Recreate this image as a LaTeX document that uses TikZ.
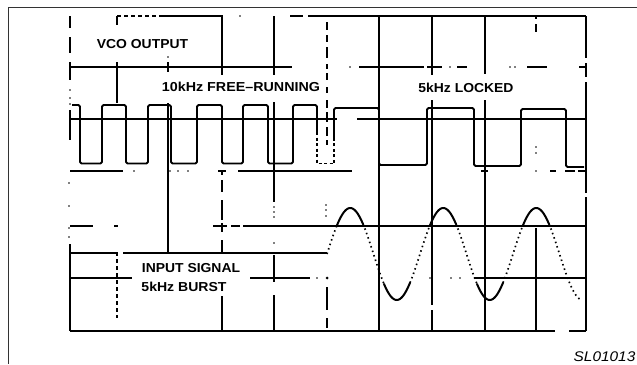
\documentclass[tikz,border=0pt]{standalone}
\usepackage{fontspec}
\usepackage{graphicx}
\setmainfont{Liberation Sans}
\begin{document}
\begin{tikzpicture}[x=1pt,y=-1pt,
  g/.style={line width=1.5pt, line cap=butt},
  gd/.style={g, dash pattern=on 4pt off 3pt},
  tr/.style={line width=1.8pt, line join=round, rounded corners=1.5pt},
  trd/.style={line width=1.6pt, dash pattern=on 3pt off 2.5pt},
  sd/.style={line width=1.7pt, dash pattern=on 1.5pt off 3.2pt, line cap=butt},
  ss/.style={line width=2pt, line cap=round},
  fr/.style={line width=0.9pt, draw=black!80},
  lbl/.style={inner sep=0pt, font=\fontsize{13}{13}\selectfont\bfseries},
  pt/.style={fill=black}]
\useasboundingbox (0,0) rectangle (637,364);
% outer frame (top and left edges visible)
\draw[fr] (637,7) -- (8,7) -- (8,364);
% ---------------- horizontal graticule pieces ----------------
\draw[gd] (117,16) -- (163,16);
\foreach \a/\b in {163/223, 290/303, 308/586} \draw[g] (\a,16) -- (\b,16);
\foreach \a/\b in {70/292, 359/424, 427/442, 457/467, 527/547, 579/586} \draw[g] (\a,67) -- (\b,67);
\foreach \a/\b in {70/337, 357/586} \draw[g] (\a,119) -- (\b,119);
\foreach \a/\b in {70/123, 218/226, 238/352, 481/488, 550/556, 565/575, 578/586} \draw[g] (\a,171) -- (\b,171);
\foreach \a/\b in {70/93, 114/118, 213/227, 231/240, 243/586} \draw[g] (\a,226) -- (\b,226);
\foreach \a/\b in {70/132, 250/310, 474/586} \draw[g] (\a,278) -- (\b,278);
\foreach \a/\b in {70/555, 569/586} \draw[g] (\a,331) -- (\b,331);
% ---------------- vertical graticule pieces ----------------
\foreach \a/\b in {16/28, 37/53, 62/80, 110/140, 244/331} \draw[g] (70,\a) -- (70,\b);
\foreach \a/\b in {16/25, 62/103} \draw[g] (117,\a) -- (117,\b);
\draw[gd] (117,252) -- (117,318);
\foreach \a/\b in {62/72, 103/253} \draw[g] (168,\a) -- (168,\b);
\foreach \a/\b in {16/75, 170/175, 180/192, 200/220, 223/232, 240/252, 296/331} \draw[g] (222,\a) -- (222,\b);
\foreach \a/\b in {16/75, 102/202, 255/282, 295/331} \draw[g] (274,\a) -- (274,\b);
\foreach \a/\b in {22/30, 35/42, 47/58, 64/69, 73/80, 87/93, 100/108, 112/122, 127/136, 140/145, 287/310, 318/328} \draw[g] (327,\a) -- (327,\b);
\draw[g] (379,16) -- (379,331);
\foreach \a/\b in {16/75, 100/305, 310/331} \draw[g] (432,\a) -- (432,\b);
\foreach \a/\b in {16/74, 100/331} \draw[g] (485,\a) -- (485,\b);
\foreach \a/\b in {16/19, 24/32, 228/331} \draw[g] (536,\a) -- (536,\b);
\foreach \a/\b in {16/58, 63/77, 82/193, 197/331} \draw[g] (586,\a) -- (586,\b);
\draw[g] (580,67) -- (586,67);
% ---------------- stray dots of the trace photo ----------------
\foreach \x/\y in {240/16, 350/67, 450/67, 510/67, 515/67,
  134/171, 170/171, 178/171, 188/171, 536/171,
  70/90, 70/98, 70/104, 69/183, 69/206, 69/228, 69/237,
  168/57, 274/207, 274/212, 274/217, 274/243,
  326/205, 326/210, 326/216, 317/278, 430/278, 451/278, 460/278,
  536/147, 536/153}
  \fill[pt] (\x,\y) circle (0.9pt);
\fill[pt] (327,278) circle (1.5pt);
% ---------------- VCO square-wave trace ----------------
\draw[tr] (72,105) -- (80,105) -- (80,163.5) -- (102,163.5) -- (102,105) -- (126,105)
  -- (126,163.5) -- (148,163.5) -- (148,105) -- (171,105) -- (171,163.5) -- (197,163.5)
  -- (197,105) -- (222,105) -- (222,163.5) -- (243,163.5) -- (243,105) -- (268,105)
  -- (268,163.5) -- (293,163.5) -- (293,105) -- (317,105) -- (317,132);
\draw[trd] (317,132) -- (317,163.5) -- (334,163.5) -- (334,140);
\draw[tr] (334,140) -- (334,108) -- (379,108) -- (379,165) -- (427,165) -- (427,108)
  -- (474,108) -- (474,166) -- (521,166) -- (521,109) -- (566,109) -- (566,167) -- (584,167);
% ---------------- input signal trace ----------------
\foreach \a/\b in {70/117, 123/327} \draw[g] (\a,253) -- (\b,253);
\foreach \a/\b in {327/337, 363/384, 410/430, 456/477, 503/523, 549/580}
  \draw[sd] plot[domain=\a:\b, samples=30] (\x, {254-46*sin(3.871*(\x-327))});
\foreach \a/\b in {337/363, 384/410, 430/456, 477/503, 523/549}
  \draw[ss] plot[domain=\a:\b, samples=30] (\x, {254-46*sin(3.871*(\x-327))});
% ---------------- labels ----------------
\node[lbl] (vco) at (142.5,44.5) {\scalebox{1.07}[1]{VCO OUTPUT}};
\node[lbl] (free) at (241,86.5) {\scalebox{1.1}[1]{10kHz FREE\textendash RUNNING}};
\node[lbl] (lock) at (466,87.5) {\scalebox{1.07}[1]{5kHz LOCKED}};
\node[lbl] (insig) at (191,268) {\scalebox{1.07}[1]{INPUT SIGNAL}};
\node[lbl] (burst) at (184,286.5) {\scalebox{1.08}[1]{5kHz BURST}};
\node[inner sep=0pt, font=\fontsize{14}{14}\selectfont\itshape] (code) at (604.5,356.7) {\scalebox{1.1}[1]{SL01013}};
\end{tikzpicture}
\end{document}
